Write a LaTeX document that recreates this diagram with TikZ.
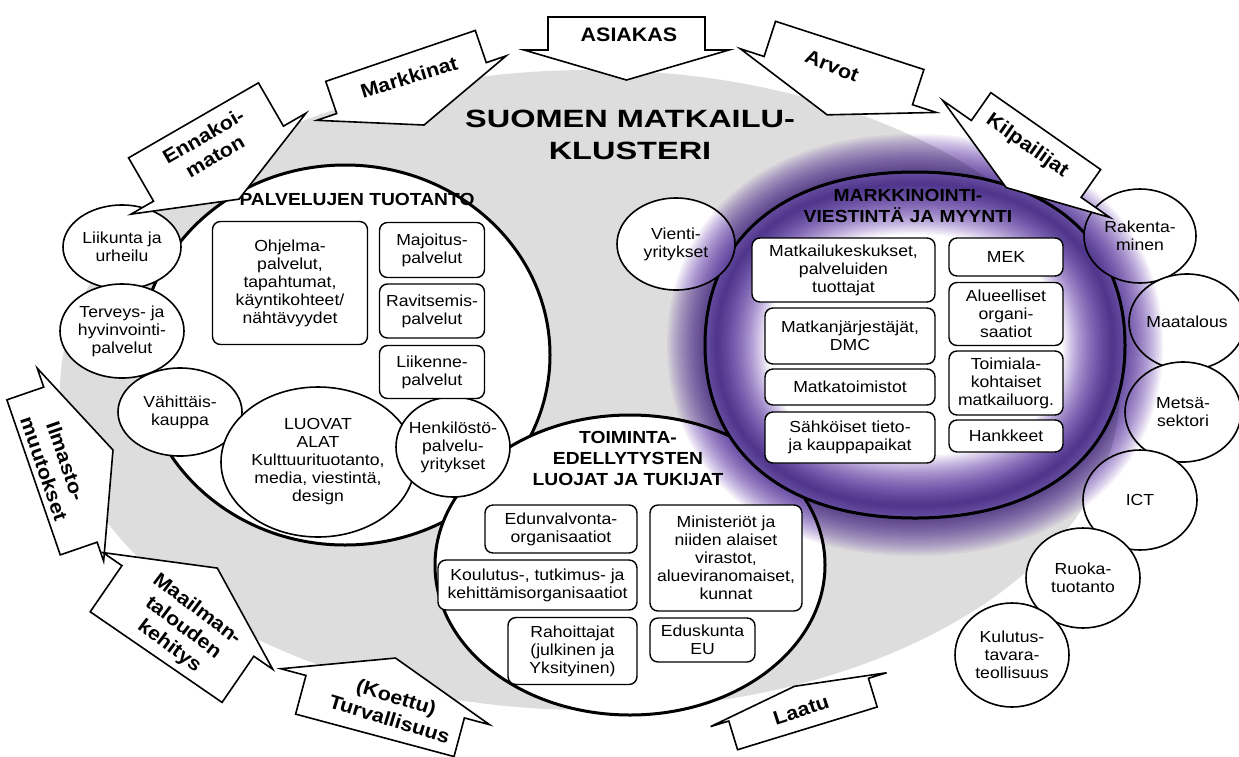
\documentclass[tikz,border=0pt]{standalone}
\usepackage{fontspec}
\setmainfont{Liberation Sans}[FakeStretch=1.1]
\newfontfamily\titlefont{Liberation Sans}[FakeStretch=1.3]
\usetikzlibrary{shapes.geometric}

\definecolor{bggrey}{RGB}{221,221,221}
\definecolor{glowpurple}{RGB}{88,34,172}

\newcommand\smalltxt{\fontsize{16}{18}\selectfont}
\newcommand\headtxt{\fontsize{17.5}{21}\selectfont\bfseries}
\newcommand\arrtxt{\fontsize{19.5}{23}\selectfont\bfseries}

\tikzset{
  bigshape/.style={ellipse, draw, line width=3pt, fill=white, inner sep=0pt},
  ringline/.style={draw, line width=3pt, fill=white},
  satshape/.style={ellipse, draw, line width=1.6pt, fill=white, inner sep=0pt},
  sattext/.style={align=center, font=\smalltxt, inner sep=0pt},
  boxn/.style={rectangle, rounded corners=8pt, draw, line width=1.4pt, fill=white,
               align=center, inner sep=0pt, font=\smalltxt},
  headn/.style={align=center, font=\headtxt, inner sep=0pt},
  arrowshape/.style={draw, fill=white, line width=1.6pt, line join=miter},
  arrowtxt/.style={align=center, font=\arrtxt, inner sep=0pt},
}

% block arrow: centre x, centre y, rotation, half body width, body depth,
% half head width, head length, side of the head (1 = below text, -1 = above)
\newcommand\blockarrow[8]{%
  \draw[arrowshape, shift={(#1,#2)}, rotate=#3, yscale=#8]
    (-#4,-#5/2) -- (#4,-#5/2) -- (#4,#5/2) -- (#6,#5/2) -- (0,#5/2+#7)
    -- (-#6,#5/2) -- (-#4,#5/2) -- cycle;}

% elliptic satellite: name, x, y, x radius, y radius, text
\newcommand\satellite[6]{%
  \node[satshape, minimum width={2*#4pt}, minimum height={2*#5pt}] (#1) at (#2,#3) {};
  \node[sattext] (#1-text) at (#1.center) {#6};}

% slightly squared oval of the marketing circle, centred at (915,345)
\newcommand\ringpath[2]{%
  (915+#1,345) .. controls (915+#1,345-0.62*#2) and (915+0.62*#1,345-#2) .. (915,345-#2)
  .. controls (915-0.62*#1,345-#2) and (915-#1,345-0.62*#2) .. (915-#1,345)
  .. controls (915-#1,345+0.62*#2) and (915-0.62*#1,345+#2) .. (915,345+#2)
  .. controls (915+0.62*#1,345+#2) and (915+#1,345+0.62*#2) .. (915+#1,345) -- cycle}

\begin{document}
\begin{tikzpicture}[x=1pt, y=-1pt]
\useasboundingbox (0,0) rectangle (1239,756);
\fill[white] (0,0) rectangle (1239,756);

% grey cluster background
\fill[bggrey] (590,390) ellipse [x radius=530pt, y radius=320pt];

% service production circle
\node[bigshape, minimum width=410pt, minimum height=380pt] (palvelut) at (345,355) {};
% enabling organisations circle
\node[bigshape, minimum width=390pt, minimum height=300pt] (toiminta) at (630,565) {};

% satellites on the left
\satellite{liikunta}{122}{247}{59}{42}{Liikunta ja\\urheilu}
\satellite{terveys}{122}{331}{62}{47}{Terveys- ja\\hyvinvointi-\\palvelut}
\satellite{vahittais}{180}{412}{62}{44}{Vähittäis-\\kauppa}
\satellite{luovat}{318}{462}{97}{75}{LUOVAT\\ALAT\\Kulttuurituotanto,\\media, viestintä,\\design}
\satellite{henkilosto}{453}{447}{57}{50}{Henkilöstö-\\palvelu-\\yritykset}

% marketing circle and its satellites
\path[ringline] \ringpath{210}{173};
\coordinate (markkinointi) at (915,345);
\satellite{vienti}{676}{244}{59}{46}{Vienti-\\yritykset}
\satellite{rakentaminen}{1140}{236}{56}{47}{Rakenta-\\minen}
\satellite{maatalous}{1187}{322}{58}{48}{Maatalous}
\satellite{metsa}{1183}{412}{58}{50}{Metsä-\\sektori}
\satellite{ict}{1140}{500}{57}{50}{ICT}
\satellite{ruoka}{1083}{578}{57}{50}{Ruoka-\\tuotanto}
\satellite{kulutus}{1012}{655}{57}{52}{Kulutus-\\tavara-\\teollisuus}

% purple glow round the marketing circle
\begin{scope}[blend mode=multiply]
  \foreach \w in {4,8,...,100} {
    \draw[glowpurple, opacity=0.062, line width=\w pt] \ringpath{198}{161};
  }
\end{scope}

% headings
\node[headn] (palvelut-head) at (357,199) {PALVELUJEN TUOTANTO};
\node[headn] (markkinointi-head) at (908,206) {MARKKINOINTI-\\VIESTINTÄ JA MYYNTI};
\node[headn] (toiminta-head) at (628,458) {TOIMINTA-\\EDELLYTYSTEN\\LUOJAT JA TUKIJAT};

% service production boxes
\node[boxn, minimum width=155pt, minimum height=123pt] (ohjelma) at (290,283)
  {Ohjelma-\\palvelut,\\tapahtumat,\\käyntikohteet/\\nähtävyydet};
\node[boxn, minimum width=105pt, minimum height=55pt] (majoitus) at (432,250) {Majoitus-\\palvelut};
\node[boxn, minimum width=105pt, minimum height=54pt] (ravitsemis) at (432,311) {Ravitsemis-\\palvelut};
\node[boxn, minimum width=105pt, minimum height=53pt] (liikenne) at (432,372) {Liikenne-\\palvelut};

% marketing boxes
\node[boxn, minimum width=183pt, minimum height=64pt] (keskukset) at (843.5,270) {Matkailukeskukset,\\palveluiden\\tuottajat};
\node[boxn, minimum width=170pt, minimum height=56pt] (jarjestajat) at (850,336) {Matkanjärjestäjät,\\DMC};
\node[boxn, minimum width=170pt, minimum height=36pt] (toimistot) at (850,387) {Matkatoimistot};
\node[boxn, minimum width=170pt, minimum height=51pt] (sahkoiset) at (850,437.5) {Sähköiset tieto-\\ja kauppapaikat};
\node[boxn, minimum width=114pt, minimum height=38pt] (mek) at (1006,257) {MEK};
\node[boxn, minimum width=114pt, minimum height=63pt] (alueelliset) at (1006,314) {Alueelliset\\organi-\\saatiot};
\node[boxn, minimum width=114pt, minimum height=64pt] (toimiala) at (1006,383) {Toimiala-\\kohtaiset\\matkailuorg.};
\node[boxn, minimum width=114pt, minimum height=32pt] (hankkeet) at (1006,436) {Hankkeet};

% enabling organisation boxes
\node[boxn, minimum width=152pt, minimum height=48pt] (edunvalvonta) at (561,529) {Edunvalvonta-\\organisaatiot};
\node[boxn, minimum width=199pt, minimum height=50pt] (koulutus) at (537.5,585) {Koulutus-, tutkimus- ja\\kehittämisorganisaatiot};
\node[boxn, minimum width=129pt, minimum height=67pt] (rahoittajat) at (572.5,651) {Rahoittajat\\(julkinen ja\\Yksityinen)};
\node[boxn, minimum width=152pt, minimum height=106pt] (ministeriot) at (726,558) {Ministeriöt ja\\niiden alaiset\\virastot,\\alueviranomaiset,\\kunnat};
\node[boxn, minimum width=105pt, minimum height=44pt] (eduskunta) at (702.5,640) {Eduskunta\\EU};

% title
\node[align=center, inner sep=0pt, font={\titlefont\fontsize{25}{32}\selectfont\bfseries}] (title) at (630,135)
  {SUOMEN MATKAILU-\\KLUSTERI};

% surrounding forces
\blockarrow{626.5}{33.5}{0}{78.5}{33}{102.5}{30}{1}
\node[arrowtxt] (asiakas) at (629,35) {ASIAKAS};
\blockarrow{406}{72}{18.8}{79}{34}{100}{39}{1}
\node[arrowtxt, rotate=17] (markkinat) at (409,77) {Markkinat};
\blockarrow{206}{142}{30}{75}{50}{101}{41}{1}
\node[arrowtxt, rotate=30] (ennakoimaton) at (209,146) {Ennakoi-\\maton};
\blockarrow{844}{63}{-18}{78}{37}{103}{36}{1}
\node[arrowtxt, rotate=-22] (arvot) at (832,66) {Arvot};
\blockarrow{1036}{145}{-35}{67}{34}{102}{35}{1}
\node[arrowtxt, rotate=-35] (kilpailijat) at (1027,146) {Kilpailijat};
\blockarrow{52}{471}{-71}{82}{39}{102}{45}{-1}
\node[arrowtxt, rotate=-71] (ilmasto) at (55,465) {Ilmasto-\\muutokset};
\blockarrow{172}{634}{-34.5}{80}{56}{103}{52}{-1}
\node[arrowtxt, rotate=-37] (maailman) at (183,628) {Maailman-\\talouden\\kehitys};
\blockarrow{380}{716}{-15}{82}{40}{108}{40}{-1}
\node[arrowtxt, rotate=-17] (turvallisuus) at (393,708) {(Koettu)\\Turvallisuus};
\blockarrow{803}{714}{17}{73}{30}{92}{14}{-1}
\node[arrowtxt, rotate=18] (laatu) at (801,710) {Laatu};
\end{tikzpicture}
\end{document}
